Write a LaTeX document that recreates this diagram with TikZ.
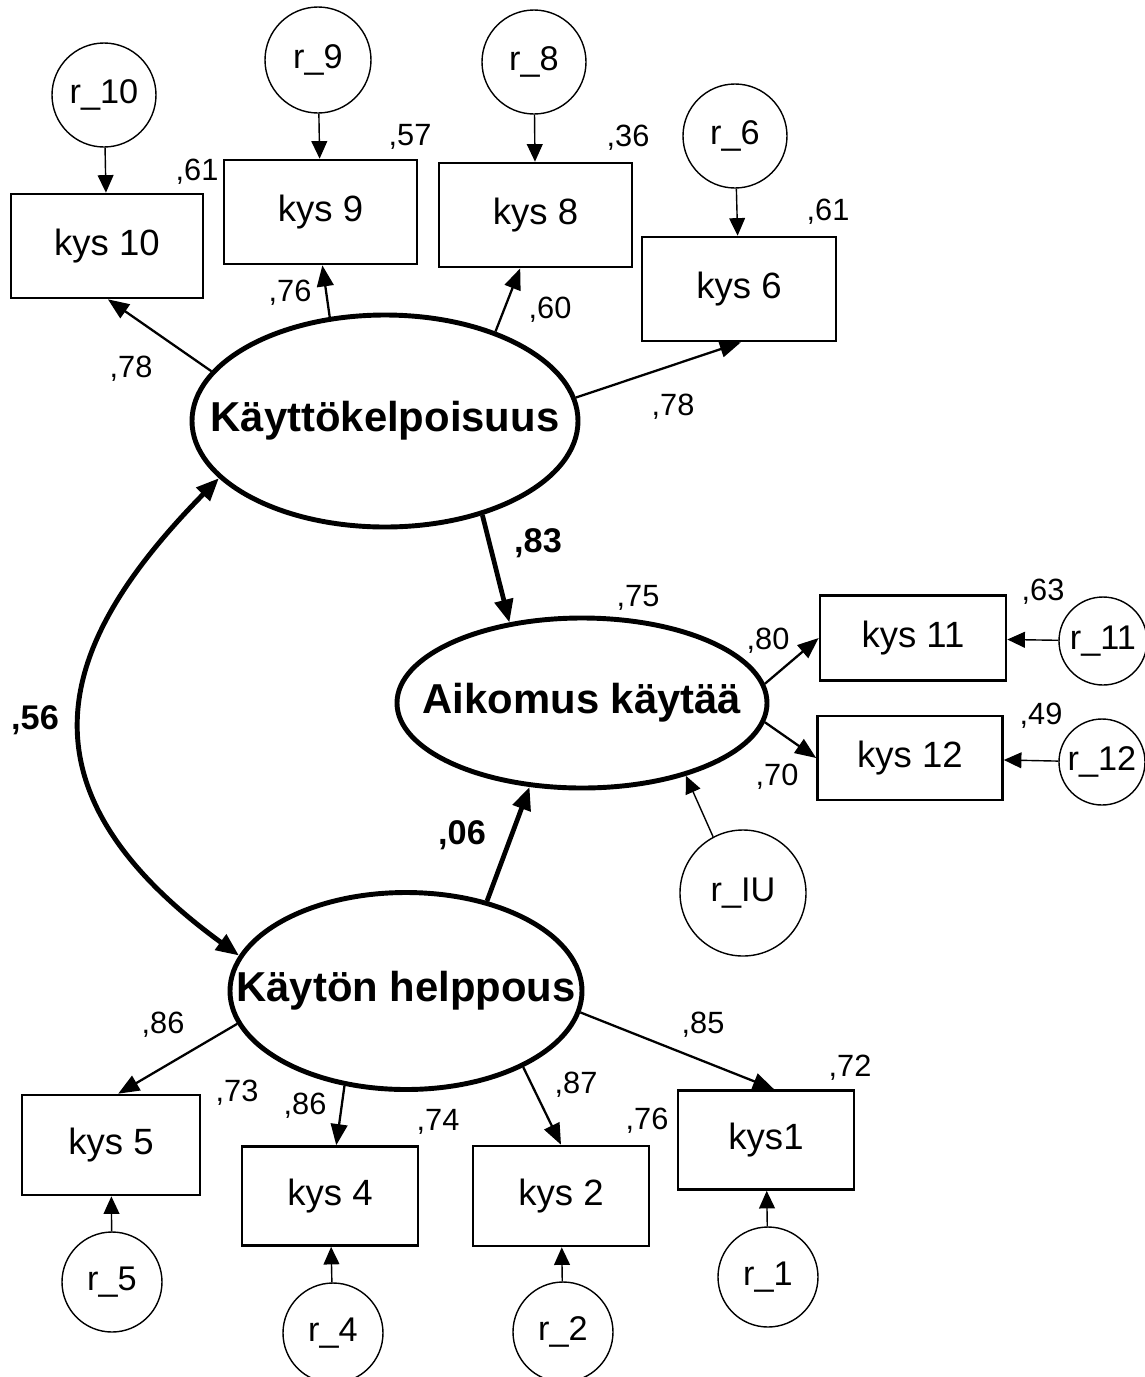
\documentclass[tikz,border=0pt]{standalone}
\usepackage{fontspec}
\setmainfont{Liberation Sans}
\usetikzlibrary{shapes.geometric,arrows.meta}
\newcommand\pxu{0.02cm}
\tikzset{
  latent/.style={draw, ellipse, line width=2.8pt, inner sep=0pt},
  lattext/.style={font=\fontsize{23.8}{28}\selectfont\bfseries, inner sep=0pt},
  obs/.style={draw, rectangle, line width=1.5pt, inner sep=0pt, font=\fontsize{20.8}{24}\selectfont},
  errcirc/.style={draw, circle, line width=0.8pt, inner sep=0pt, font=\fontsize{19.5}{23}\selectfont},
  coef/.style={inner sep=0pt, font=\fontsize{17.5}{20}\selectfont},
  coefb/.style={inner sep=0pt, font=\fontsize{19.5}{22}\selectfont\bfseries},
  loadarrow/.style={line width=1.3pt, -{Triangle[length=12pt,width=9.5pt]}},
  regarrow/.style={line width=2.7pt, -{Triangle[length=13pt,width=10.5pt]}},
  residarrow/.style={line width=0.8pt, -{Triangle[length=10pt,width=9pt]}},
  covarrow/.style={line width=2.8pt, {Triangle[length=13pt,width=10.5pt]}-{Triangle[length=13pt,width=10.5pt]}},
}
\begin{document}
\begin{tikzpicture}[x=\pxu, y=-\pxu]
\useasboundingbox[fill=white] (0,0) rectangle (1144,1377);

% latent variables
\node[latent, minimum width=386*\pxu, minimum height=212*\pxu,
      label={[lattext]center:Käyttökelpoisuus}] (K) at (385,421) {};
\node[latent, minimum width=370*\pxu, minimum height=170*\pxu,
      label={[lattext]center:Aikomus käytää}] (A) at (582,703) {};
\node[latent, minimum width=352*\pxu, minimum height=197*\pxu,
      label={[lattext]center:Käytön helppous}] (H) at (406,991) {};

% observed indicators
\node[obs, minimum width=192*\pxu, minimum height=104*\pxu] (k10) at (107,246) {kys 10};
\node[obs, minimum width=193*\pxu, minimum height=104*\pxu] (k9) at (320.5,212) {kys 9};
\node[obs, minimum width=193*\pxu, minimum height=104*\pxu] (k8) at (535.5,215) {kys 8};
\node[obs, minimum width=194*\pxu, minimum height=104*\pxu] (k6) at (739,289) {kys 6};
\node[obs, minimum width=186*\pxu, minimum height=85*\pxu] (k11) at (913,638) {kys 11};
\node[obs, minimum width=185*\pxu, minimum height=84*\pxu] (k12) at (910,758) {kys 12};
\node[obs, minimum width=178*\pxu, minimum height=100*\pxu] (k5) at (111,1145) {kys 5};
\node[obs, minimum width=176*\pxu, minimum height=99*\pxu] (k4) at (330,1196) {kys 4};
\node[obs, minimum width=176*\pxu, minimum height=100*\pxu] (k2) at (561,1196) {kys 2};
\node[obs, minimum width=176*\pxu, minimum height=99*\pxu] (k1) at (766,1140) {kys1};

% residuals
\node[errcirc, minimum size=104*\pxu] (r10) at (104,95) {r\_10};
\node[errcirc, minimum size=106*\pxu] (r9) at (318,60) {r\_9};
\node[errcirc, minimum size=104*\pxu] (r8) at (534,62) {r\_8};
\node[errcirc, minimum size=104*\pxu] (r6) at (735,136) {r\_6};
\node[errcirc, minimum size=88*\pxu] (r11) at (1103,641) {r\_11};
\node[errcirc, minimum size=86*\pxu] (r12) at (1102,762) {r\_12};
\node[errcirc, minimum size=126*\pxu] (rIU) at (743,893) {r\_IU};
\node[errcirc, minimum size=100*\pxu] (r5) at (112,1282) {r\_5};
\node[errcirc, minimum size=100*\pxu] (r4) at (333,1333) {r\_4};
\node[errcirc, minimum size=100*\pxu] (r2) at (563,1332) {r\_2};
\node[errcirc, minimum size=100*\pxu] (r1) at (768,1277) {r\_1};

% residual paths
\draw[residarrow] (r10) -- (k10);
\draw[residarrow] (r9) -- (k9);
\draw[residarrow] (r8) -- (k8);
\draw[residarrow] (r6) -- (k6);
\draw[residarrow] (r11) -- (k11);
\draw[residarrow] (r12) -- (k12);
\draw[residarrow] (rIU.118) -- (A.-35);
\draw[residarrow] (r5) -- (k5);
\draw[residarrow] (r4) -- (k4);
\draw[residarrow] (r2) -- (k2);
\draw[residarrow] (r1) -- (k1);

% factor loadings
\draw[loadarrow] (K.164) -- (k10.-89);
\draw[loadarrow] (K.118) -- (k9.-88);
\draw[loadarrow] (K.39) -- (k8.-106);
\draw[loadarrow] (K.7) -- (k6.-88);
\draw[loadarrow] (A.6) -- (k11.west);
\draw[loadarrow] (A.-6) -- (k12.west);
\draw[loadarrow] (H.191) -- (k5.82);
\draw[loadarrow] (H.237) -- (k4.83);
\draw[loadarrow] (H.-33.6) -- (k2.north);
\draw[loadarrow] (H.-7.3) -- (k1.81);

% structural paths and covariance
\draw[regarrow] (K.-44) -- (A.132);
\draw[regarrow] (H.48) -- (A.-122.7);
\draw[covarrow] (K.199) .. controls (60,640) and (5,785) .. (H.168);

% estimates
\node[coef] (e61a) at (197,172) {,61};
\node[coef] (e57) at (410,137) {,57};
\node[coef] (e36) at (628,138) {,36};
\node[coef] (e61b) at (828,212) {,61};
\node[coef] (e76a) at (290,293) {,76};
\node[coef] (e60) at (550,310) {,60};
\node[coef] (e78a) at (131,369) {,78};
\node[coef] (e78b) at (673,407) {,78};
\node[coefb] (e83) at (538,543) {,83};
\node[coef] (e75) at (638,598) {,75};
\node[coef] (e80) at (768,641) {,80};
\node[coef] (e63) at (1043,592) {,63};
\node[coef] (e49) at (1041,716) {,49};
\node[coef] (e70) at (777,777) {,70};
\node[coefb] (e56) at (35,720) {,56};
\node[coefb] (e06) at (462,835) {,06};
\node[coef] (e86a) at (163,1025) {,86};
\node[coef] (e73) at (237,1093) {,73};
\node[coef] (e86b) at (305,1106) {,86};
\node[coef] (e74) at (438,1122) {,74};
\node[coef] (e87) at (576,1085) {,87};
\node[coef] (e76b) at (647,1121) {,76};
\node[coef] (e85) at (703,1025) {,85};
\node[coef] (e72) at (850,1068) {,72};
\end{tikzpicture}
\end{document}
